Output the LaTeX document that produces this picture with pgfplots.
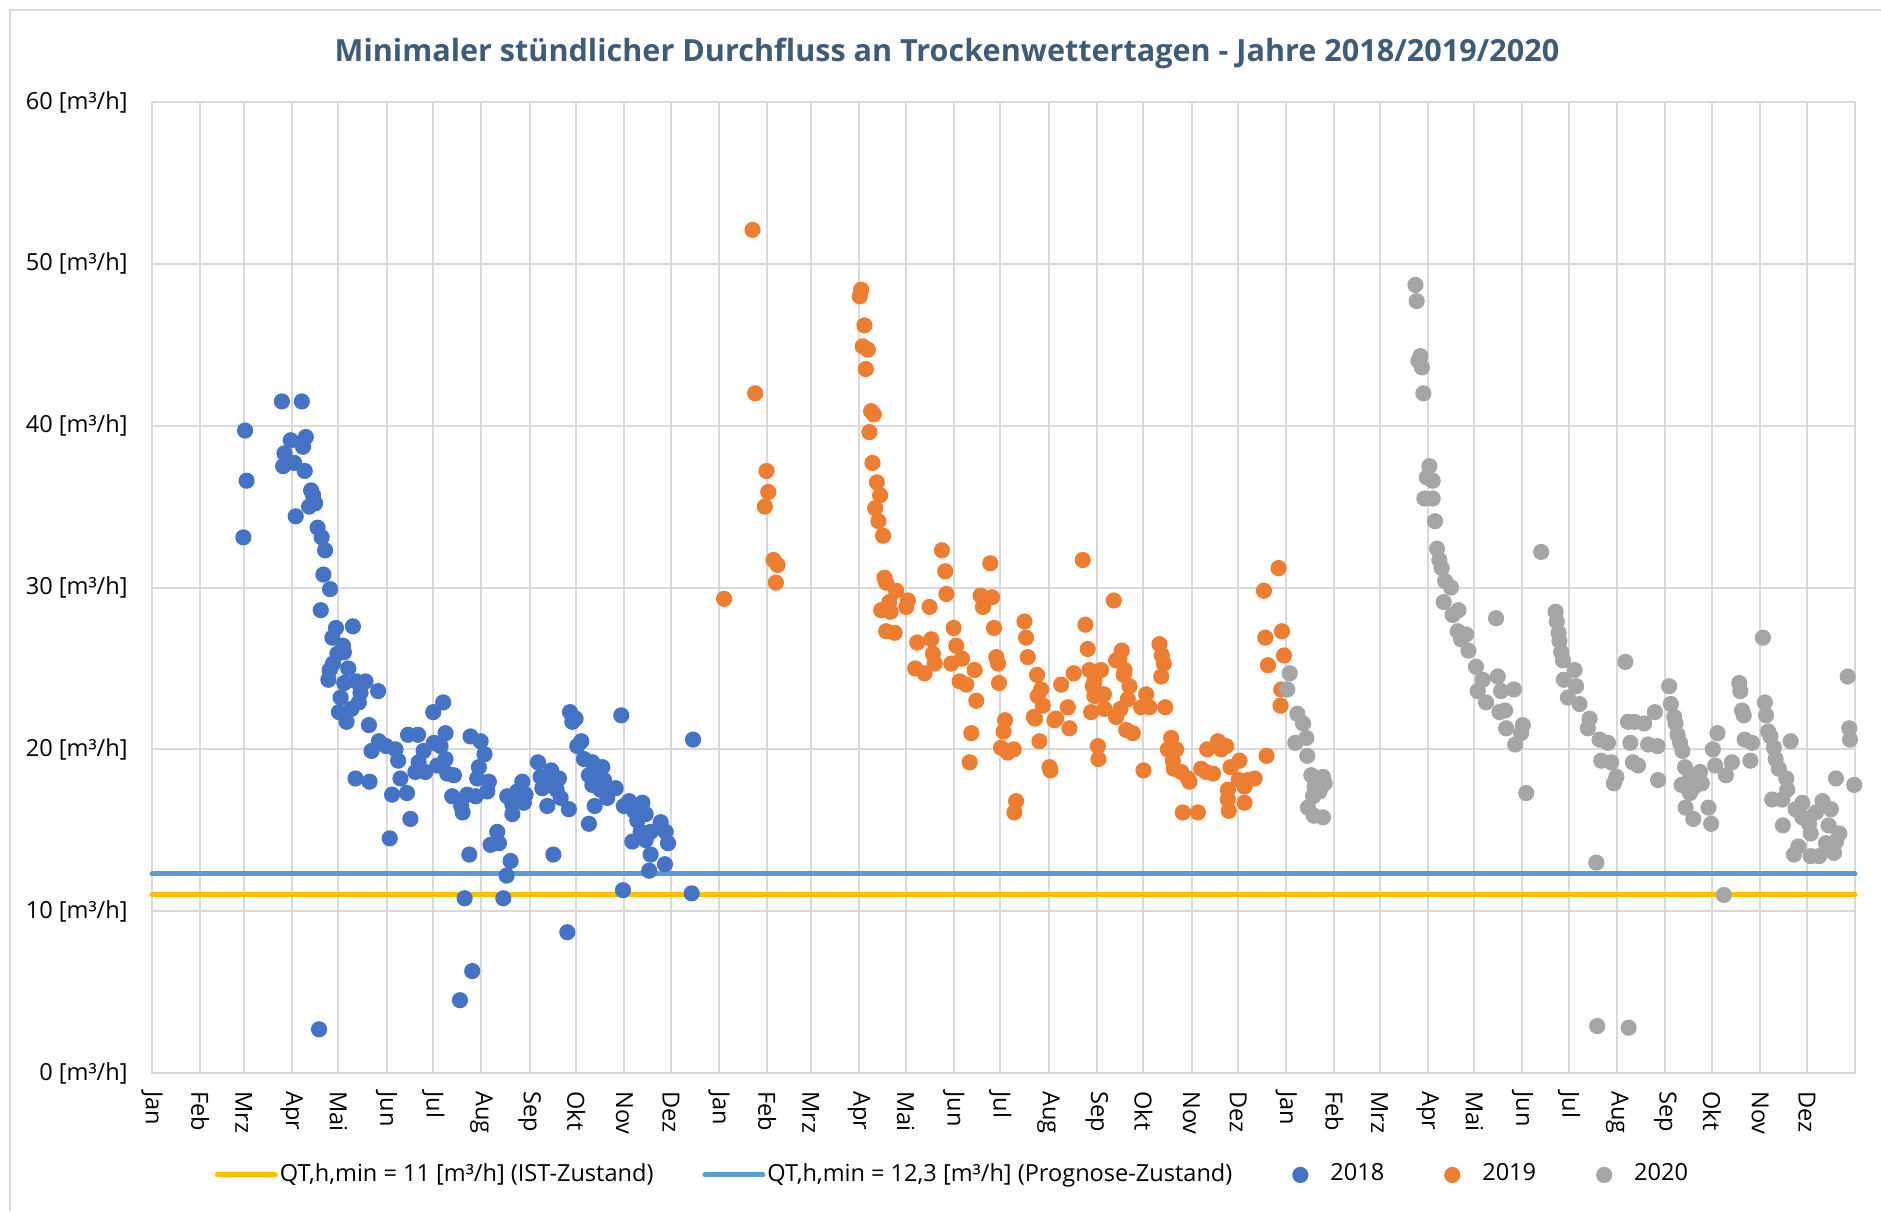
\documentclass[border=0pt]{standalone}
\usepackage{fontspec}
\setmainfont{Open Sans}
\usepackage{pgfplots}
\usepackage{pgfplotstable}
\pgfplotsset{compat=1.18}
\definecolor{c18}{HTML}{4472C4}
\definecolor{c19}{HTML}{ED7D31}
\definecolor{c20}{HTML}{A5A5A5}
\definecolor{cyel}{HTML}{FFC000}
\definecolor{cblu}{HTML}{5B9BD5}
\definecolor{gridc}{HTML}{D9D9D9}
\definecolor{titlec}{HTML}{3E5B78}
\pgfplotsset{
  linelegend/.style={legend image code/.code={\draw[##1] (0cm,0cm) -- (0.53cm,0cm); \draw[##1,overlay] (0.5cm,0cm) -- (0.58cm,0cm);}},
  dotlegend/.style={legend image code/.code={\path[draw=none,fill=none] (0cm,-0.07cm) rectangle (0.42cm,0.07cm); \draw[##1, draw=none] plot coordinates {(0.19cm,0cm)};}},
}

\pgfplotstableread{
x y
59.9 39.7
60.9 36.6
58.8 33.1
83.6 41.5
96.4 41.5
89.3 39.1
99.0 39.3
97.2 38.7
85.3 38.3
84.4 37.5
91.5 37.7
98.3 37.2
102.4 36.0
103.7 35.7
101.1 35.0
105.0 35.2
92.5 34.4
106.6 33.7
109.2 33.1
111.4 32.3
110.3 30.8
114.6 29.9
108.6 28.6
118.4 27.5
129.3 27.6
116.1 26.9
122.9 26.4
119.3 25.9
123.5 26.0
116.5 25.3
126.3 25.0
114.3 24.9
113.5 24.3
123.7 24.1
131.4 24.2
137.4 24.2
134.2 23.5
145.5 23.6
121.4 23.2
133.1 22.9
128.4 22.5
120.3 22.3
125.2 21.7
139.6 21.5
146.0 20.5
141.3 19.9
150.7 20.2
156.7 20.0
158.4 19.3
164.8 20.9
171.2 20.9
174.8 19.9
131.0 18.2
140.0 18.0
154.5 17.2
159.9 18.2
164.1 17.3
166.3 15.7
153.0 14.5
169.5 18.6
175.9 18.6
171.6 19.2
107.5 2.7
187.4 22.9
181.0 22.3
188.9 21.0
181.4 20.4
185.7 20.2
188.9 19.4
183.6 19.0
190.0 18.5
194.3 18.4
193.2 17.1
199.0 16.5
199.9 16.1
202.9 17.2
208.3 17.1
205.0 20.8
211.5 20.5
214.0 19.7
210.4 18.9
209.3 18.2
216.8 18.0
215.8 17.4
204.2 13.5
201.2 10.8
206.1 6.3
198.2 4.5
222.2 14.9
217.9 14.1
223.3 14.2
230.8 13.1
228.2 12.2
226.1 10.8
228.6 17.1
231.9 16.6
231.9 16.0
235.1 17.4
238.3 18.0
240.4 17.2
239.3 16.7
234.0 16.9
248.4 19.2
250.1 18.3
251.2 17.6
256.9 18.7
256.5 18.0
261.9 18.2
260.4 17.5
263.0 17.0
254.4 16.5
268.3 16.3
258.3 13.5
267.3 8.7
269.0 22.3
272.6 21.9
270.5 21.7
276.3 20.5
273.7 20.2
278.0 19.4
283.4 19.2
289.8 18.9
281.2 18.4
285.5 18.1
283.4 17.8
290.9 18.1
288.7 17.5
293.0 17.0
298.4 17.6
284.9 16.5
281.2 15.4
302.0 22.1
303.1 11.3
307.0 16.8
303.7 16.5
310.2 16.2
315.6 16.7
317.7 16.0
312.3 15.6
314.5 14.9
309.1 14.3
317.7 14.4
320.9 14.9
327.4 15.5
330.6 14.9
332.1 14.2
320.9 13.5
320.0 12.5
330.1 12.9
348.2 20.6
347.3 11.1
}\dataA

\pgfplotstableread{
x y
386.5 52.1
388.2 42.0
368.2 29.3
395.5 37.2
396.6 35.9
394.4 35.0
400.0 31.7
402.6 31.4
401.5 30.3
456.4 48.4
455.5 48.0
458.5 46.2
457.4 44.9
460.7 44.7
459.4 43.5
462.8 40.9
464.5 40.7
461.7 39.6
463.7 37.7
466.5 36.5
468.6 35.7
465.4 34.9
467.5 34.1
470.5 33.2
471.4 30.6
472.5 30.3
478.9 29.8
474.6 29.1
486.5 29.2
485.4 28.8
469.3 28.6
475.3 28.5
472.5 27.3
477.9 27.2
500.4 28.8
508.4 32.3
510.5 31.0
511.2 29.6
492.5 26.6
501.5 26.8
502.6 25.9
503.7 25.3
491.2 25.0
497.2 24.7
515.9 27.5
517.6 26.4
514.4 25.3
521.3 25.6
519.8 24.2
524.1 24.0
529.4 24.9
530.5 23.0
527.3 21.0
526.2 19.2
539.5 31.5
533.3 29.5
540.6 29.4
534.8 28.8
541.9 27.5
543.4 25.7
544.5 25.3
545.1 24.1
549.0 21.8
548.1 21.1
546.4 20.1
550.7 19.8
554.6 20.0
561.5 27.9
562.5 26.9
563.6 25.7
569.6 24.6
572.2 23.7
570.0 23.3
573.3 22.7
567.5 22.0
568.3 21.9
571.1 20.5
577.6 18.9
578.2 18.7
556.1 16.8
555.0 16.1
585.1 24.0
589.4 22.6
581.9 21.9
580.8 21.8
590.4 21.3
593.2 24.7
599.0 31.7
600.7 27.7
602.2 26.2
603.3 24.9
606.5 24.2
610.8 24.9
605.5 23.9
608.7 23.5
606.5 23.3
612.6 23.4
604.4 22.3
613.0 22.5
608.7 20.2
609.1 19.4
619.0 29.2
620.5 25.5
624.1 26.1
622.6 25.6
625.9 24.9
625.4 24.6
629.1 23.9
628.0 23.1
623.3 22.5
620.5 22.0
627.0 21.2
631.2 21.0
639.8 23.4
636.6 22.6
641.9 22.6
648.4 26.5
649.9 25.8
651.2 25.3
649.5 24.5
652.1 22.6
638.1 18.7
655.9 20.7
653.8 20.0
659.1 20.0
657.0 19.3
657.6 18.8
662.4 18.6
666.7 18.2
667.7 18.0
663.4 16.1
673.1 16.1
675.2 18.8
678.5 18.6
682.8 18.5
679.1 20.0
686.0 20.5
688.1 20.0
691.3 20.2
692.4 17.5
692.4 16.9
693.0 16.2
694.1 18.9
699.9 19.3
699.3 18.1
703.1 17.7
705.3 18.1
709.6 18.2
703.1 16.7
715.6 29.8
725.0 31.2
716.5 26.9
727.2 27.3
718.2 25.2
728.5 25.8
726.8 23.7
726.3 22.7
717.3 19.6
}\dataB

\pgfplotstableread{
x y
732.2 24.7
730.6 23.7
737.1 22.2
740.8 21.6
742.9 20.7
735.8 20.4
743.5 19.6
746.1 18.4
753.6 18.3
754.7 17.9
748.2 17.7
747.2 17.1
751.4 17.4
743.9 16.4
747.7 15.9
753.6 15.8
813.1 48.7
813.9 47.7
816.3 44.3
815.0 44.0
817.3 43.6
818.2 42.0
822.1 37.5
820.4 36.8
824.2 36.6
818.9 35.5
824.2 35.5
825.7 34.1
827.0 32.4
828.5 31.7
830.0 31.2
832.2 30.4
836.0 30.0
831.3 29.1
840.8 28.6
837.1 28.3
840.3 27.3
845.7 27.1
842.5 26.8
847.2 26.1
852.1 25.1
856.4 24.3
853.2 23.6
858.6 22.9
865.0 28.1
866.1 24.5
868.2 23.6
876.4 23.7
867.2 22.3
870.8 22.4
871.5 21.3
882.2 21.5
877.3 20.3
881.1 21.0
884.4 17.3
894.0 32.2
903.3 28.5
904.1 27.9
905.2 27.2
905.8 26.7
906.9 26.0
908.0 25.5
908.6 24.3
915.5 24.9
916.5 23.9
911.2 23.2
918.7 22.8
925.2 21.9
924.1 21.3
931.6 20.6
937.0 20.4
932.7 19.3
939.1 19.2
940.8 17.9
929.5 13.0
930.1 2.9
950.3 2.8
948.2 25.4
942.4 18.3
949.9 21.7
954.2 21.7
960.3 21.6
967.2 22.3
951.4 20.4
953.1 19.2
956.4 19.0
962.9 20.3
968.9 20.2
969.3 18.1
976.4 23.9
977.5 22.8
979.7 22.0
980.5 21.6
981.8 20.9
983.4 20.4
984.9 19.9
986.6 18.9
984.4 17.8
989.8 18.2
992.6 17.7
997.4 17.9
996.3 18.6
989.8 17.3
987.0 16.4
991.9 15.7
1001.7 16.4
1003.4 15.4
1004.5 20.0
1007.5 21.0
1006.0 19.0
1012.9 18.4
1016.8 19.2
1011.6 11.0
1021.5 24.1
1022.2 23.6
1023.3 22.4
1024.4 22.1
1025.0 20.6
1029.7 20.4
1028.7 19.3
1036.7 26.9
1038.0 22.9
1038.8 22.1
1040.1 21.1
1041.6 20.8
1043.8 20.1
1044.9 19.4
1047.0 18.8
1051.8 18.2
1052.4 17.5
1042.7 16.9
1049.2 16.9
1054.6 20.5
1049.6 15.3
1057.8 16.3
1062.1 16.7
1062.1 15.8
1066.4 15.4
1067.5 14.8
1070.8 16.1
1075.1 16.8
1080.5 16.3
1079.0 15.3
1085.9 14.8
1083.7 14.3
1077.3 14.2
1082.5 13.6
1059.5 14.0
1056.7 13.5
1067.5 13.4
1072.9 13.4
1083.7 18.2
1091.3 24.5
1092.3 21.3
1092.8 20.6
1095.5 17.8
}\dataC

\begin{document}
\begin{tikzpicture}
\path[use as bounding box] (0,0) rectangle (18.81,12.11);
\draw[gridc, line width=0.02cm] (0.1,0) -- (0.1,12.01) -- (18.81,12.01);
\node[font=\fontsize{8.7}{10}\selectfont\bfseries, text=titlec] at (9.47,11.58)
  {Minimaler stündlicher Durchfluss an Trockenwettertagen - Jahre 2018/2019/2020};
\begin{axis}[
  at={(1.52cm,1.38cm)}, anchor=south west,
  scale only axis, width=17.03cm, height=9.71cm,
  xmin=0, xmax=1096, ymin=0, ymax=60,
  clip=false,
  xtick={0,31,59,90,120,151,181,212,243,273,304,334,365,396,424,455,485,516,546,577,608,638,669,699,730,761,790,821,851,882,912,943,974,1004,1035,1065},
  xticklabels={Jan,Feb,Mrz,Apr,Mai,Jun,Jul,Aug,Sep,Okt,Nov,Dez,Jan,Feb,Mrz,Apr,Mai,Jun,Jul,Aug,Sep,Okt,Nov,Dez,Jan,Feb,Mrz,Apr,Mai,Jun,Jul,Aug,Sep,Okt,Nov,Dez},
  ytick={0,10,20,30,40,50,60},
  yticklabels={0 [m³/h],10 [m³/h],20 [m³/h],30 [m³/h],40 [m³/h],50 [m³/h],60 [m³/h]},
  xmajorgrids, ymajorgrids,
  grid style={gridc, line width=0.02cm},
  axis line style={gridc, line width=0.02cm},
  major tick length=0pt,
  tick label style={font=\fontsize{6.7}{8}\selectfont, text=black},
  xticklabel style={rotate=-90, anchor=west},
  xticklabel shift={0.06cm},
  yticklabel style={xshift=-0.12cm},
  legend columns=5,
  legend style={at={(0.4715,-0.105)}, anchor=center, draw=none, fill=none,
    font=\fontsize{6.7}{8}\selectfont,
    /tikz/every even column/.append style={column sep=0.42cm}},
]
\addplot[cyel, line width=0.05cm, line cap=round, linelegend]
  coordinates {(0,11) (1096,11)};
\addlegendentry{QT,h,min = 11 [m³/h] (IST-Zustand)}
\addplot[cblu, line width=0.05cm, line cap=round, linelegend]
  coordinates {(0,12.3) (1096,12.3)};
\addlegendentry{QT,h,min = 12,3 [m³/h] (Prognose-Zustand)}
\addplot[only marks, mark=*, mark size=2.1pt, color=c18, mark options={draw=c18, fill=c18}, dotlegend] table[x=x, y=y] {\dataA};
\addlegendentry{2018}
\addplot[only marks, mark=*, mark size=2.1pt, color=c19, mark options={draw=c19, fill=c19}, dotlegend] table[x=x, y=y] {\dataB};
\addlegendentry{2019}
\addplot[only marks, mark=*, mark size=2.1pt, color=c20, mark options={draw=c20, fill=c20}, dotlegend] table[x=x, y=y] {\dataC};
\addlegendentry{2020}
\end{axis}
\end{tikzpicture}
\end{document}
